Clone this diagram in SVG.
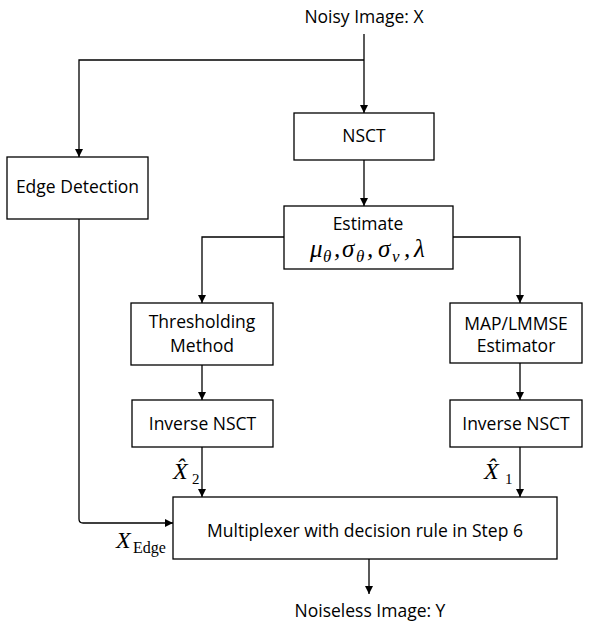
<svg xmlns="http://www.w3.org/2000/svg" width="592" height="625" viewBox="0 0 592 625">
<style>
.box{fill:#fff;stroke:#000;stroke-width:1.3}
.lbl{font-family:"Open Sans","Liberation Sans",sans-serif;font-size:17.5px;text-anchor:middle;fill:#000}
.conn{fill:none;stroke:#000;stroke-width:1.3;marker-end:url(#ah)}
.mi{font-family:"Liberation Serif","DejaVu Serif",serif;font-style:italic;fill:#000}
.mr{font-family:"Liberation Serif","DejaVu Serif",serif;fill:#000}
</style>
<defs>
<marker id="ah" markerUnits="userSpaceOnUse" markerWidth="8" markerHeight="9" refX="8" refY="4" orient="auto">
<path d="M0,0 L8,4 L0,8 z" fill="#000"/>
</marker>
</defs>
<rect width="592" height="625" fill="#fff"/>
<g id="connectors">
<path class="conn" d="M364,34 V113"/>
<path class="conn" d="M364,60 H79 V157"/>
<path class="conn" d="M364,160 V206"/>
<path class="conn" d="M284,237 H202 V303"/>
<path class="conn" d="M453,237 H520 V303"/>
<path class="conn" d="M202,365 V400"/>
<path class="conn" d="M520,363 V400"/>
<path class="conn" d="M202,447 V497"/>
<path class="conn" d="M520,447 V497"/>
<path class="conn" d="M79,219 V519 Q79,523 83,523 H173"/>
<path class="conn" d="M369,559 V594"/>
</g>
<g id="input"><text class="lbl" x="364" y="23">Noisy Image: X</text></g>
<g id="nsct"><rect class="box" x="294" y="113" width="140" height="47"/><text class="lbl" x="364" y="142">NSCT</text></g>
<g id="edge"><rect class="box" x="7" y="157" width="141" height="62"/><text class="lbl" x="77.5" y="193">Edge Detection</text></g>
<g id="estimate"><rect class="box" x="284" y="206" width="169" height="63"/><text class="lbl" x="368" y="230">Estimate</text>
<text class="mi" font-size="25" y="257"><tspan x="310">μ</tspan><tspan x="323" y="262" font-size="17">θ</tspan><tspan x="334" y="257">,</tspan><tspan x="342">σ</tspan><tspan x="356" y="262" font-size="17">θ</tspan><tspan x="367" y="257">,</tspan><tspan x="378">σ</tspan><tspan x="392" y="262" font-size="17">ν</tspan><tspan x="404" y="257">,</tspan><tspan x="414">λ</tspan></text></g>
<g id="threshold"><rect class="box" x="131" y="303" width="142" height="62"/><text class="lbl" x="202" y="328">Thresholding</text><text class="lbl" x="202" y="352">Method</text></g>
<g id="map"><rect class="box" x="450" y="303" width="132" height="60"/><text class="lbl" x="516" y="330">MAP/LMMSE</text><text class="lbl" x="516" y="352">Estimator</text></g>
<g id="inv2"><rect class="box" x="132" y="400" width="141" height="47"/><text class="lbl" x="202.5" y="430">Inverse NSCT</text></g>
<g id="inv1"><rect class="box" x="450" y="400" width="132" height="47"/><text class="lbl" x="516" y="430">Inverse NSCT</text></g>
<g id="mux"><rect class="box" x="173" y="497" width="384" height="62"/><text class="lbl" x="365" y="537">Multiplexer with decision rule in Step 6</text></g>
<g id="output"><text class="lbl" x="370" y="617">Noiseless Image: Y</text></g>
<g id="labels">
<text class="mi" font-size="24" x="173" y="479">X̂<tspan class="mr" font-size="15" font-style="normal" x="192" y="484">2</tspan></text>
<text class="mi" font-size="24" x="484" y="479">X̂<tspan class="mr" font-size="15" font-style="normal" x="505" y="484">1</tspan></text>
<text class="mi" font-size="24" x="116" y="548">X<tspan class="mr" font-size="16" font-style="normal" x="133" y="553">Edge</tspan></text>
</g>
</svg>
